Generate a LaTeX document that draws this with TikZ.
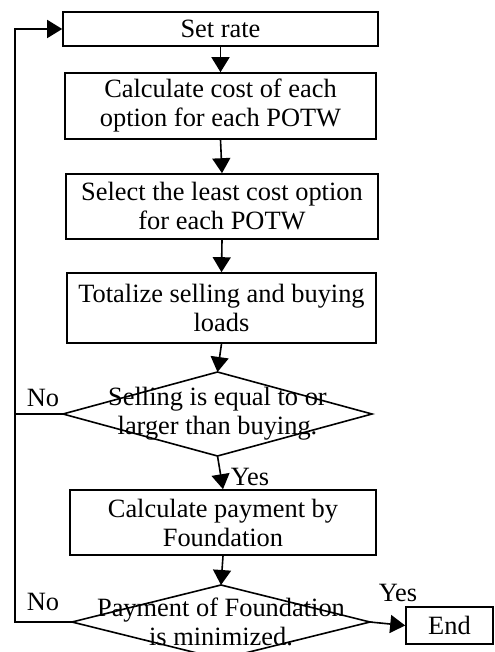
\documentclass[tikz,border=0pt]{standalone}
\usepackage{fontspec}
\setmainfont{Liberation Serif}
\usetikzlibrary{positioning}
\usetikzlibrary{shapes.geometric,arrows.meta}

\begin{document}
\begin{tikzpicture}[x=0.5pt,y=-0.5pt,font=\fontsize{13.2}{14.5}\selectfont,
  box/.style={draw,line width=0.8pt,align=center,inner sep=1pt},
  decision/.style={draw,diamond,line width=0.8pt,inner sep=0pt,outer sep=0pt},
  arr/.style={-{Triangle[length=7.5pt,width=9pt]},line width=0.8pt}]
 \useasboundingbox (0,0) rectangle (494,652);
 \node[box,minimum width=157.5pt,minimum height=17pt] (rate) at (220.5,29) {Set rate};
 \node[box,minimum width=155.5pt,minimum height=33pt] (cost) at (220.5,106) {Calculate cost of each\\option for each POTW};
 \node[box,minimum width=156pt,minimum height=32.5pt] (least) at (222,206.5) {Select the least cost option\\for each POTW};
 \node[box,minimum width=154.5pt,minimum height=35pt] (total) at (221.5,308) {Totalize selling and buying\\loads};
 \node[decision,minimum width=154.5pt,minimum height=42pt] (sell) at (217.5,414) {};
 \node[align=center] (selltxt) at (sell.center) {Selling is equal to or\\larger than buying.};
 \node[box,minimum width=153pt,minimum height=32.5pt] (pay) at (223,522.5) {Calculate payment by\\Foundation};
 \node[decision,minimum width=149pt,minimum height=37pt] (min) at (221,622) {};
 \node[align=center] (mintxt) at (min.center) {Payment of Foundation\\is minimized.};
 \node[box,minimum width=43.5pt,minimum height=18.5pt] (end) at (449.5,625.5) {End};
 \coordinate (back) at (15,414);
 \draw[arr] (rate.south) -- (cost.north);
 \draw[arr] (cost.south) -- (least.north);
 \draw[arr] (least.south) -- (total.north);
 \draw[arr] (total.south) -- (sell.north);
 \draw[arr] (sell.south) -- (pay.north);
 \draw[arr] (pay.south) -- (min.north);
 \draw[arr] (min.east) -- (end.west);
 \draw[arr] (sell.west) -- (back) |- (rate.west);
 \draw[line width=0.8pt] (min.west) -| (back);
 \node (no1) at (43,398) {No};
 \node (no2) at (43,602) {No};
 \node (yes1) at (250,477) {Yes};
 \node (yes2) at (398,593) {Yes};
\end{tikzpicture}
\end{document}
